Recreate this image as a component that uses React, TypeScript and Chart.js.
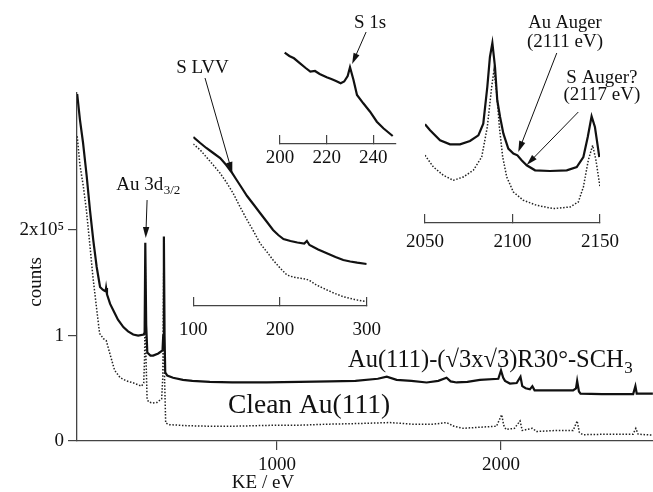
import React, { useEffect, useRef } from 'react';
import { Chart, registerables } from 'chart.js';

Chart.register(...registerables);

const W = 653;
const H = 492;
const SERIF = "'Liberation Serif', 'Times New Roman', 'DejaVu Serif', serif";
const INK = '#111';
const AXIS = '#444';

// ---------- main survey spectrum (KE / eV vs counts) ----------
const sch3KE = [108, 120, 134, 150, 165, 180, 195, 210, 222, 230, 235, 237, 241, 255, 269, 290, 314, 335, 358, 380, 405, 409, 412, 416, 421, 435, 447, 470, 489, 492, 495, 498, 501, 510, 536, 580, 622, 700, 800, 954, 1100, 1236, 1350, 1450, 1490, 1534, 1600, 1668, 1720, 1757, 1775, 1802, 1850, 1906, 1988, 2000, 2010, 2018, 2040, 2070, 2087, 2095, 2110, 2129, 2140, 2150, 2200, 2322, 2335, 2340, 2348, 2355, 2450, 2590, 2600, 2606, 2678];
const sch3Counts = [329000, 305000, 283000, 252000, 219000, 190000, 165000, 146000, 143500, 142500, 142000, 145000, 139000, 130000, 124000, 115000, 108000, 104000, 101000, 100000, 101000, 103000, 188000, 110000, 84000, 81000, 81000, 83000, 86000, 100000, 194000, 100000, 65000, 62000, 60000, 58000, 57000, 56000, 55500, 55500, 56000, 56500, 57000, 59000, 61000, 58000, 57000, 55500, 57000, 60000, 56500, 55500, 56000, 58000, 59000, 67000, 60000, 57000, 54500, 55000, 61000, 52000, 50000, 49000, 52000, 48000, 48000, 48000, 50000, 57000, 47000, 45000, 44500, 44500, 52000, 45000, 45000];

const cleanKE = [108, 120, 135, 149, 165, 178, 195, 208, 225, 238, 255, 275, 300, 328, 360, 395, 405, 409, 412, 415, 420, 427, 445, 464, 485, 490, 494, 498, 503, 520, 600, 700, 800, 900, 1000, 1100, 1236, 1350, 1504, 1600, 1700, 1757, 1790, 1831, 1900, 1980, 2003, 2012, 2022, 2060, 2085, 2095, 2140, 2159, 2250, 2322, 2340, 2350, 2366, 2500, 2590, 2602, 2612, 2678];
const cleanCounts = [289000, 262000, 242000, 219000, 185000, 156000, 125000, 102000, 97000, 95000, 82000, 67000, 60000, 57000, 55000, 52000, 55000, 80000, 165000, 80000, 40000, 37000, 36000, 36500, 40000, 60000, 160000, 60000, 17000, 15500, 14500, 14000, 14000, 14500, 15000, 15000, 16000, 16500, 17500, 16000, 16000, 17500, 14000, 12000, 13000, 14000, 25000, 15000, 11000, 12000, 19000, 10000, 12000, 9000, 10000, 10000, 19000, 8000, 6000, 6500, 6500, 12000, 6500, 5500];

const mainXTicks = [1000, 2000];
const mainYTicks = [0, 100000, 200000];
const mainYTickLabels = ['0', '1', '2x10⁵'];

// ---------- inset: S LVV (arbitrary units) ----------
const slvvKE = [100, 108, 115, 123, 131, 138, 144, 150, 156, 162, 170, 177, 185, 192, 198, 204, 212, 220, 228, 231, 234, 244, 254, 264, 273, 281, 289, 300];
const slvvSCH3 = [169, 163, 158, 153, 148, 141, 134, 126, 118, 110, 101, 93, 84, 76, 71, 67, 65, 63.5, 62.5, 65, 61, 56.5, 52.7, 49, 46, 44.5, 43.3, 42];
const slvvCleanKE = [100, 108, 115, 123, 131, 138, 146, 154, 162, 170, 177, 185, 192, 200, 208, 215, 223, 230, 235, 242, 250, 262, 273, 286, 300];
const slvvClean = [162, 156, 149, 141, 132.7, 124, 112.7, 99, 86, 74, 62.7, 54, 46, 38, 31, 29, 27.7, 27, 25, 21, 17.7, 13, 9.3, 6.5, 4.3];
const slvvTicks = [100, 200, 300];

// ---------- inset: S 1s ----------
const s1sKE = [202, 204, 206, 208.6, 211, 213, 215, 217, 220, 222, 224, 226, 227.5, 229, 230, 231.5, 233, 235.7, 238.6, 241.5, 244.3, 248.3];
const s1sSCH3 = [91.3, 88, 85.7, 80.7, 76, 72.3, 73, 70, 66.7, 65, 63, 60.7, 62.5, 68, 76.7, 64, 49, 40.7, 32.3, 22.3, 15.7, 8];
const s1sTicks = [200, 220, 240];

// ---------- inset: Au / S Auger ----------
const augerKE = [2050, 2052.9, 2058.6, 2064.3, 2070, 2075.7, 2080.5, 2083.3, 2085.6, 2087.1, 2088.5, 2090, 2091.3, 2092.9, 2094.8, 2097.6, 2100.5, 2102.8, 2105.2, 2108.1, 2112.9, 2121.4, 2131, 2136.7, 2140.5, 2143, 2145.2, 2147.1, 2148.5, 2149.6];
const augerSCH3 = [98.7, 92.7, 82.7, 78.7, 78.7, 82, 87.7, 99.4, 136, 166, 180, 156, 122.7, 106, 89.4, 74.4, 69.4, 67.7, 62.7, 57.7, 52.7, 52, 52.7, 56, 66, 86, 106.7, 96, 79.4, 66];
const augerCleanKE = [2050, 2054.8, 2060.5, 2066.2, 2071.9, 2077.6, 2082.4, 2085.6, 2088.1, 2089.4, 2091, 2092.5, 2094.4, 2096.7, 2100.5, 2106.2, 2113.8, 2123.3, 2132.9, 2137.6, 2140.5, 2143.3, 2145.8, 2147.7, 2150];
const augerClean = [67.7, 56, 47.7, 42.7, 46, 52.7, 66, 96, 136, 152.7, 129.4, 96, 66, 46, 31, 22.7, 17.7, 14.4, 16, 21, 36, 62.7, 77.7, 62.7, 36];
const augerTicks = [2050, 2100, 2150];

type Note = { text: string; sub?: string; x: number; y: number; size: number; align: 'left' | 'center' };
type Arrow = { x0: number; y0: number; x1: number; y1: number };

const pts = (xs: number[], ys: number[]) => xs.map((x, i) => ({ x, y: ys[i] }));

const solid = (xs: number[], ys: number[]) => ({
  data: pts(xs, ys), borderColor: INK, borderWidth: 2.2, pointRadius: 0, tension: 0, fill: false,
});
const dotted = (xs: number[], ys: number[]) => ({
  data: pts(xs, ys), borderColor: '#222', borderWidth: 1.5, borderDash: [1.5, 1.7], pointRadius: 0, tension: 0, fill: false,
});

function drawArrow(ctx: CanvasRenderingContext2D, x0: number, y0: number, x1: number, y1: number) {
  const a = Math.atan2(y1 - y0, x1 - x0);
  const c = Math.cos(a), s = Math.sin(a);
  const len = 11, hw = 3.2;
  ctx.save();
  ctx.strokeStyle = INK; ctx.fillStyle = INK; ctx.lineWidth = 1;
  ctx.beginPath(); ctx.moveTo(x0, y0); ctx.lineTo(x1 - c * len * 0.7, y1 - s * len * 0.7); ctx.stroke();
  ctx.beginPath();
  ctx.moveTo(x1, y1);
  ctx.lineTo(x1 - c * len + s * hw, y1 - s * len - c * hw);
  ctx.lineTo(x1 - c * len - s * hw, y1 - s * len + c * hw);
  ctx.closePath(); ctx.fill();
  ctx.restore();
}

function notesPlugin(id: string, notes: Note[], arrows: Arrow[], extra?: (ctx: CanvasRenderingContext2D, chart: any) => void) {
  return {
    id,
    afterDraw(chart: any) {
      const ctx: CanvasRenderingContext2D = chart.ctx;
      const xs = chart.scales.x, ys = chart.scales.y;
      ctx.save();
      ctx.fillStyle = INK;
      ctx.textBaseline = 'alphabetic';
      ctx.textAlign = 'left';
      for (const n of notes) {
        const px = xs.getPixelForValue(n.x), py = ys.getPixelForValue(n.y);
        const mainFont = `${n.size}px ${SERIF}`;
        const subSize = Math.round(n.size * 0.68);
        const subFont = `${subSize}px ${SERIF}`;
        ctx.font = mainFont;
        const w1 = ctx.measureText(n.text).width;
        ctx.font = subFont;
        const w2 = n.sub ? ctx.measureText(n.sub).width : 0;
        const left = n.align === 'center' ? px - (w1 + w2) / 2 : px;
        ctx.font = mainFont;
        ctx.fillText(n.text, left, py);
        if (n.sub) {
          ctx.font = subFont;
          ctx.fillText(n.sub, left + w1 + 0.5, py + n.size * 0.22);
        }
      }
      for (const a of arrows) {
        drawArrow(ctx, xs.getPixelForValue(a.x0), ys.getPixelForValue(a.y0), xs.getPixelForValue(a.x1), ys.getPixelForValue(a.y1));
      }
      if (extra) extra(ctx, chart);
      ctx.restore();
    },
  };
}

const tickFont = { family: SERIF, size: 19, lineHeight: 1 };

function mainConfig(): any {
  const notes: Note[] = [
    { text: 'Au 3d', sub: '3/2', x: 424, y: 238000, size: 19, align: 'center' },
    { text: 'Au(111)-(√3x√3)R30°-SCH', sub: '3', x: 1317, y: 70000, size: 24.5, align: 'left' },
    { text: 'Clean Au(111)', x: 781, y: 26500, size: 27.5, align: 'left' },
  ];
  const arrows: Arrow[] = [{ x0: 420, y0: 228500, x1: 414, y1: 192500 }];
  const titles = (ctx: CanvasRenderingContext2D) => {
    ctx.font = `19px ${SERIF}`;
    ctx.textAlign = 'center';
    ctx.textBaseline = 'middle';
    ctx.fillText('KE / eV', 263, 483);
    ctx.save();
    ctx.translate(36, 282);
    ctx.rotate(-Math.PI / 2);
    ctx.fillText('counts', 0, 0);
    ctx.restore();
  };
  return {
    type: 'line',
    data: { datasets: [solid(sch3KE, sch3Counts), dotted(cleanKE, cleanCounts)] },
    options: {
      responsive: false, animation: false, devicePixelRatio: 1, events: [],
      layout: { padding: { left: 0, top: 93, right: 0, bottom: 0 } },
      scales: {
        x: {
          type: 'linear', min: 107.1, max: 2678.6,
          afterFit: (s: any) => { s.height = H - 441; },
          afterBuildTicks: (s: any) => { s.ticks = mainXTicks.map((v) => ({ value: v })); },
          ticks: { font: tickFont, color: INK, padding: 5.5, maxRotation: 0, autoSkip: false, callback: (v: any) => String(v) },
          grid: { drawOnChartArea: false, tickLength: 9, color: AXIS, lineWidth: 1.2 },
          border: { color: AXIS, width: 1.3 },
        },
        y: {
          type: 'linear', min: 0, max: 330000,
          afterFit: (s: any) => { s.width = 77; },
          afterBuildTicks: (s: any) => { s.ticks = mainYTicks.map((v) => ({ value: v })); },
          ticks: { font: tickFont, color: INK, padding: 4, autoSkip: false, callback: (_v: any, i: number) => mainYTickLabels[i] },
          grid: { drawOnChartArea: false, tickLength: 9, color: AXIS, lineWidth: 1.2 },
          border: { color: AXIS, width: 1.3 },
        },
      },
      plugins: { legend: { display: false }, tooltip: { enabled: false } },
    },
    plugins: [notesPlugin('mainNotes', notes, arrows, titles)],
  };
}

type Inset = {
  id: string; left: number; right: number; top: number; bottom: number;
  min: number; max: number; ticks: number[]; tickPad: number;
  datasets: any[]; notes: Note[]; arrows: Arrow[];
};

function insetConfig(sp: Inset): any {
  return {
    type: 'line',
    data: { datasets: sp.datasets },
    options: {
      responsive: false, animation: false, devicePixelRatio: 1, events: [],
      layout: { padding: { left: sp.left, top: sp.top, right: W - sp.right, bottom: 0 } },
      scales: {
        x: {
          type: 'linear', min: sp.min, max: sp.max,
          afterFit: (s: any) => { s.height = H - sp.bottom; },
          afterBuildTicks: (s: any) => { s.ticks = sp.ticks.map((v) => ({ value: v })); },
          ticks: { font: tickFont, color: INK, padding: sp.tickPad, maxRotation: 0, autoSkip: false, callback: (v: any) => String(v) },
          grid: { drawOnChartArea: false, tickLength: -9, color: AXIS, lineWidth: 1.2 },
          border: { color: AXIS, width: 1.3 },
        },
        y: { display: false, min: 0, max: sp.bottom - sp.top },
      },
      plugins: { legend: { display: false }, tooltip: { enabled: false } },
    },
    plugins: [notesPlugin(sp.id, sp.notes, sp.arrows)],
  };
}

const insets: Inset[] = [
  {
    id: 'slvv', left: 193.3, right: 366.7, top: 120, bottom: 306, min: 100, max: 300, ticks: slvvTicks, tickPad: 23.5,
    datasets: [solid(slvvKE, slvvSCH3), dotted(slvvCleanKE, slvvClean)],
    notes: [{ text: 'S LVV', x: 110.6, y: 233, size: 19, align: 'center' }],
    arrows: [{ x0: 113.5, y0: 228, x1: 145, y1: 133 }],
  },
  {
    id: 's1s', left: 280, right: 395.5, top: 40, bottom: 144, min: 200, max: 249.5, ticks: s1sTicks, tickPad: 14,
    datasets: [solid(s1sKE, s1sSCH3)],
    notes: [{ text: 'S 1s', x: 238.6, y: 116, size: 19, align: 'center' }],
    arrows: [{ x0: 236.9, y0: 112, x1: 230.9, y1: 80 }],
  },
  {
    id: 'auger', left: 425, right: 600, top: 30, bottom: 223, min: 2050, max: 2150, ticks: augerTicks, tickPad: 18.5,
    datasets: [solid(augerKE, augerSCH3), dotted(augerCleanKE, augerClean)],
    notes: [
      { text: 'Au Auger', x: 2130, y: 195, size: 18.5, align: 'center' },
      { text: '(2111 eV)', x: 2130, y: 176, size: 19, align: 'center' },
      { text: 'S Auger?', x: 2151.1, y: 140, size: 19, align: 'center' },
      { text: '(2117 eV)', x: 2151.1, y: 123, size: 19, align: 'center' },
    ],
    arrows: [
      { x0: 2125.3, y0: 170, x1: 2103.3, y1: 71 },
      { x0: 2137.6, y0: 111, x1: 2108.1, y1: 58 },
    ],
  },
];

export default function App() {
  const r0 = useRef<HTMLCanvasElement>(null);
  const r1 = useRef<HTMLCanvasElement>(null);
  const r2 = useRef<HTMLCanvasElement>(null);
  const r3 = useRef<HTMLCanvasElement>(null);
  const refs = [r0, r1, r2, r3];

  useEffect(() => {
    const charts: Chart[] = [];
    charts.push(new Chart(r0.current as HTMLCanvasElement, mainConfig()));
    insets.forEach((sp, i) => {
      charts.push(new Chart(refs[i + 1].current as HTMLCanvasElement, insetConfig(sp)));
    });
    return () => charts.forEach((c) => c.destroy());
  }, []);

  return (
    <div style={{ position: 'absolute', left: 0, top: 0, width: W, height: H, background: '#fff', overflow: 'hidden' }}>
      {refs.map((r, i) => (
        <canvas key={i} ref={r} width={W} height={H}
          style={{ position: 'absolute', left: 0, top: 0, width: W, height: H, pointerEvents: 'none' }} />
      ))}
    </div>
  );
}
